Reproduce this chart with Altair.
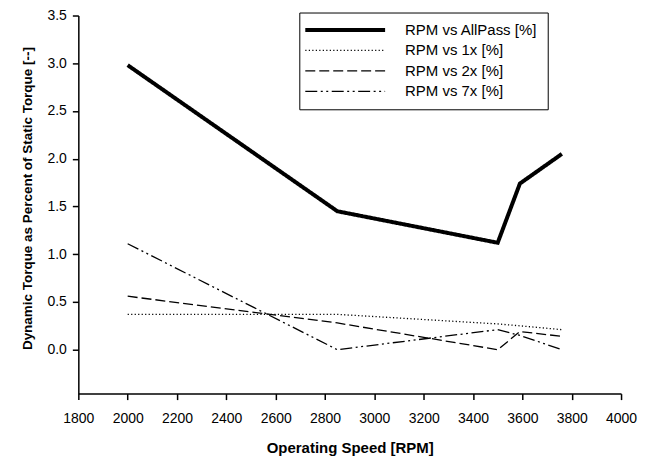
import altair as alt
import pandas as pd

# ---- data ----
rpm = [2000, 2850, 3500, 3590, 3760]
allpass = [2.98, 1.45, 1.12, 1.74, 2.05]
one_x = [0.37, 0.37, 0.27, 0.25, 0.21]
two_x = [0.56, 0.28, 0.00, 0.19, 0.14]
seven_x = [1.11, 0.00, 0.21, 0.15, 0.00]

series_names = ["RPM vs AllPass [%]", "RPM vs 1x [%]", "RPM vs 2x [%]", "RPM vs 7x [%]"]
x_ticks = [1800, 2000, 2200, 2400, 2600, 2800, 3000, 3200, 3400, 3600, 3800, 4000]
y_ticks = [0.0, 0.5, 1.0, 1.5, 2.0, 2.5, 3.0, 3.5]

rows = []
for name, vals in zip(series_names, [allpass, one_x, two_x, seven_x]):
    for r, v in zip(rpm, vals):
        rows.append({"rpm": r, "value": v, "series": name})
df = pd.DataFrame(rows)

FONT = "Liberation Sans"

legend = alt.Legend(
    title=None,
    orient="none",
    legendX=221.5,
    legendY=-3,
    symbolType="M-2.875,0H17.125",
    symbolSize=64,
    symbolStrokeColor="black",
    labelOffset=81,
    labelFontSize=15,
    labelFont=FONT,
    labelColor="black",
    padding=10,
    rowPadding=4.5,
    strokeColor="black",
    fillColor="white",
)

chart = (
    alt.Chart(df)
    .mark_line(color="black")
    .encode(
        x=alt.X(
            "rpm:Q",
            scale=alt.Scale(domain=[1800, 4000], nice=False, zero=False),
            axis=alt.Axis(values=x_ticks, format="d", title="Operating Speed [RPM]",
                          titlePadding=15, labelPadding=12, labelFlush=False,
                          labelOverlap=False),
        ),
        y=alt.Y(
            "value:Q",
            scale=alt.Scale(domain=[-0.46, 3.5], nice=False, zero=False),
            axis=alt.Axis(values=y_ticks, format=".1f",
                          title="Dynamic Torque as Percent of Static Torque [--]",
                          titleFontSize=13.5, titleY=183,
                          titlePadding=12, labelPadding=6, labelFlush=False,
                          labelOverlap=False),
        ),
        strokeDash=alt.StrokeDash(
            "series:N",
            scale=alt.Scale(domain=series_names,
                            range=[[1, 0], [1.2, 2.3], [10, 4], [12, 3.5, 2, 3.5, 2, 3.5]]),
            legend=legend,
        ),
        strokeWidth=alt.StrokeWidth(
            "series:N",
            scale=alt.Scale(type="ordinal", domain=series_names, range=[4, 1.3, 1.3, 1.3]),
            legend=legend,
        ),
    )
    .properties(
        width=544,
        height=379,
        autosize=alt.AutoSizeParams(type="none"),
        padding={"left": 70.5, "top": 7, "right": 20, "bottom": 62},
    )
    .configure_view(stroke=None)
    .configure_axis(
        grid=False,
        domainColor="black",
        domainWidth=1.5,
        tickColor="black",
        tickWidth=1.5,
        tickSize=6,
        labelFont=FONT,
        labelFontSize=14,
        labelColor="black",
        titleFont=FONT,
        titleFontSize=15,
        titleFontWeight="bold",
        titleColor="black",
    )
)

chart.save("out.html", embed_options={"renderer": "svg", "actions": False})
